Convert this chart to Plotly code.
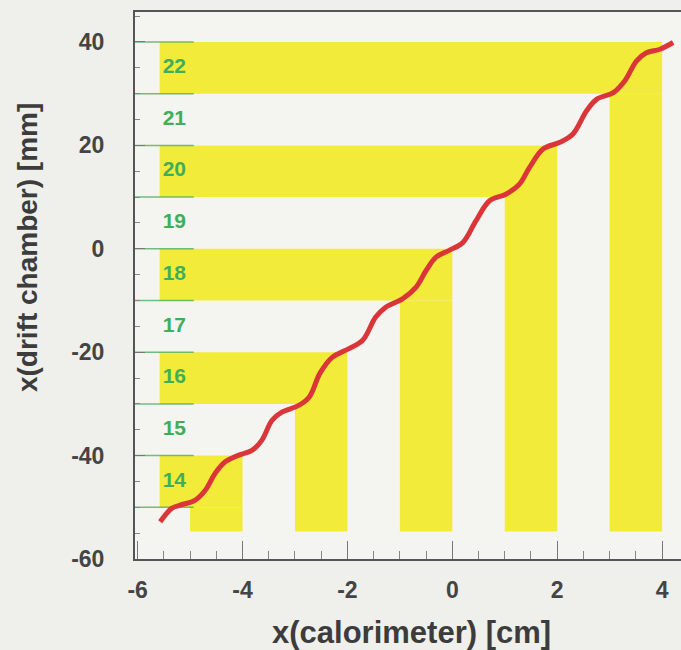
import plotly.graph_objects as go

# ---------------- data ----------------
calo_x = [-5.57, -5.35, -5.19, -4.90, -4.71, -4.52, -4.33, -4.07, -3.82, -3.63,
          -3.44, -3.25, -2.93, -2.73, -2.52, -2.29, -1.97, -1.71, -1.46, -1.27,
          -0.95, -0.69, -0.50, -0.31, -0.06, 0.20, 0.45, 0.71, 1.03, 1.28,
          1.47, 1.73, 2.05, 2.30, 2.56, 2.75, 3.07, 3.29, 3.51, 3.70, 3.96, 4.21]
drift_x = [-52.8, -50.2, -49.6, -48.6, -46.7, -43.4, -41.2, -39.9, -39.0, -37.0,
           -33.2, -31.6, -30.3, -28.7, -24.0, -21.0, -19.3, -17.7, -13.2, -11.3,
           -9.7, -7.4, -4.2, -1.6, -0.3, 1.2, 5.4, 9.3, 10.6, 12.5,
           15.7, 19.3, 20.6, 22.2, 26.7, 28.9, 30.2, 32.5, 36.3, 37.9, 38.6, 39.9]

# L-shaped yellow cells: horizontal strip (drift chamber cell) + vertical strip (calorimeter cell)
cell_right = [-4, -2, 0, 2, 4]          # cm, right edge of calorimeter strip
cell_low = [-50, -30, -10, 10, 30]      # mm, lower edge of drift-chamber strip
cell_width_cm = 1.0
cell_height_mm = 10.0
strip_left = -5.58
strip_bottom = -54.7

wire_numbers = [14, 15, 16, 17, 18, 19, 20, 21, 22]
wire_centers = [-45, -35, -25, -15, -5, 5, 15, 25, 35]
wire_label_x = -5.30
boundary_lines = [-50, -40, -30, -20, -10, 0, 10, 20, 30, 40]
boundary_end = -4.93

x_ticks = [-6, -4, -2, 0, 2, 4]
x_tick_text = ["-6", "-4", "-2", "0", "2", "4"]
y_ticks = [-60, -40, -20, 0, 20, 40]
y_tick_text = ["-60", "-40", "-20", "0", "20", "40"]

x_range = [-6.05, 4.36]
y_range = [-60, 45.8]

YELLOW = "#f2eb3a"
GREEN = "#3fae5a"
RED = "#da3538"
AX = "#555555"
TXT = "#444444"

fig = go.Figure()

shapes = []
for xr, yl in zip(cell_right, cell_low):
    shapes.append(dict(type="rect", xref="x", yref="y", x0=strip_left, x1=xr,
                       y0=yl, y1=yl + cell_height_mm, fillcolor=YELLOW,
                       line=dict(width=0), layer="below"))
    shapes.append(dict(type="rect", xref="x", yref="y", x0=xr - cell_width_cm, x1=xr,
                       y0=strip_bottom, y1=yl, fillcolor=YELLOW,
                       line=dict(width=0), layer="below"))
for yb in boundary_lines:
    shapes.append(dict(type="line", xref="x", yref="y", x0=x_range[0], x1=boundary_end,
                       y0=yb, y1=yb, line=dict(color="rgba(70,170,90,0.75)", width=1.5),
                       layer="below"))

fig.add_trace(go.Scatter(x=calo_x, y=drift_x, mode="lines",
                         line=dict(color=RED, width=5, shape="spline", smoothing=1.0),
                         hoverinfo="skip", showlegend=False))

fig.add_trace(go.Scatter(x=[wire_label_x] * len(wire_numbers), y=wire_centers,
                         mode="text", text=[str(n) for n in wire_numbers],
                         textfont=dict(family="Liberation Sans", size=21, color=GREEN,
                                       weight="bold"),
                         hoverinfo="skip", showlegend=False))

tickfont = dict(family="Liberation Sans", size=23, color=TXT, weight="bold")
xtitlefont = dict(family="Liberation Sans", size=31, color="#3c3c3c", weight="bold")
ytitlefont = dict(family="Liberation Sans", size=28, color="#3c3c3c", weight="bold")

fig.update_xaxes(range=x_range, showgrid=False, zeroline=False,
                 showline=True, linecolor=AX, linewidth=2, mirror=True,
                 ticks="inside", tickvals=x_ticks, ticktext=x_tick_text,
                 ticklen=18, tickcolor="#777", tickwidth=1,
                 minor=dict(dtick=0.5, tick0=0, ticks="inside", ticklen=8, tickcolor="#888"),
                 tickfont=tickfont, ticklabelstandoff=9)
fig.update_yaxes(range=y_range, showgrid=False, zeroline=False,
                 showline=True, linecolor=AX, linewidth=2, mirror=False,
                 ticks="inside", tickvals=y_ticks, ticktext=y_tick_text,
                 ticklen=10, tickcolor="#777", tickwidth=1,
                 minor=dict(dtick=5, tick0=0, ticks="inside", ticklen=5, tickcolor="#888"),
                 tickfont=tickfont, ticklabelstandoff=24)

fig.update_layout(
    width=681, height=650,
    margin=dict(l=135, r=0, t=12, b=91),
    paper_bgcolor="#efefeb", plot_bgcolor="#f4f4f0",
    shapes=shapes,
    annotations=[
        dict(text="x(calorimeter) [cm]", xref="paper", yref="paper",
             x=0.507, y=-0.1335, xanchor="center", yanchor="middle",
             showarrow=False, font=xtitlefont),
        dict(text="x(drift chamber) [mm]", xref="paper", yref="paper",
             x=-0.198, y=0.570, xanchor="center", yanchor="middle", textangle=-90,
             showarrow=False, font=ytitlefont),
    ],
)

fig.write_html("out.html")
